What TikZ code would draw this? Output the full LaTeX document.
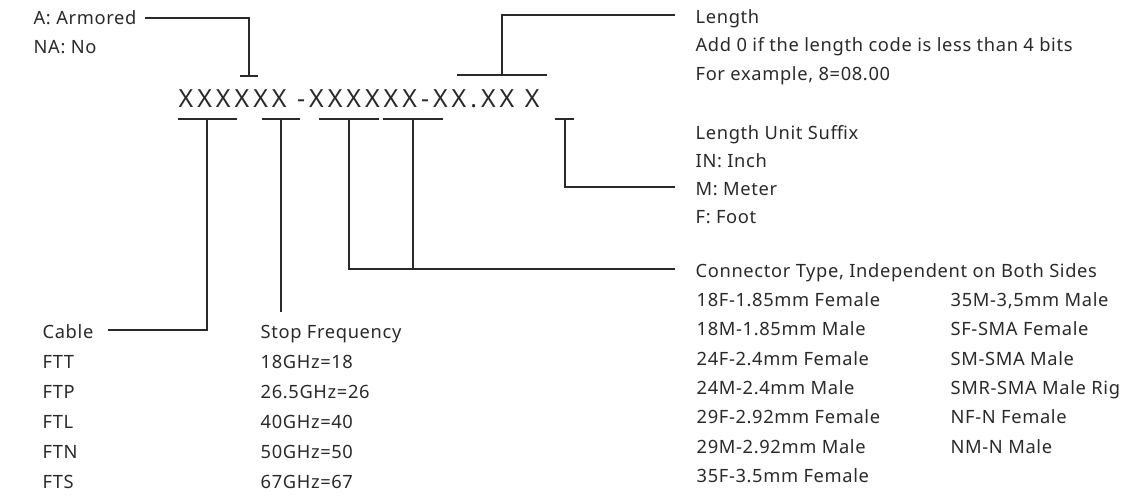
\documentclass[tikz,border=0pt]{standalone}
\usepackage{fontspec}
\setmainfont{Noto Sans}
\usetikzlibrary{positioning, calc}

\definecolor{ink}{HTML}{2A2A2A}

\begin{document}
\begin{tikzpicture}[x=1pt, y=-1pt, line width=1.3pt, draw=ink]
\tikzset{lbl/.style={anchor=base west, inner sep=0pt, text=ink, font=\fontsize{18.3}{20}\selectfont\addfontfeatures{LetterSpace=3.5}},
  code/.style={anchor=base west, inner sep=0pt, text=ink, font=\fontsize{25}{30}\selectfont\addfontfeatures{LetterSpace=16}},
  lead/.style={draw=ink, line width=1.3pt}}
\useasboundingbox (0,0) rectangle (1121,495);

% part number
\node[code] (pn) at (178,107) {XXXXXX -XXXXXX-XX.XX X};

% armored
\node[lbl] (armA) at (33,25) {A: Armored};
\node[lbl] (armNA) at (33,53) {NA: No};
\coordinate (armtick) at (249,76);
\draw[lead] (240,76) -- (258,76);
\draw[lead] ([xshift=8pt,yshift=7pt]armA.base east) -| (armtick);

% length
\node[lbl] (lenT) at (695,24) {Length};
\node[lbl] (lenA) at (695,52) {Add 0 if the length code is less than 4 bits};
\node[lbl] (lenB) at (695,80) {For example, 8=08.00};
\coordinate (lentick) at (502,75);
\draw[lead] (457,75) -- (547,75);
\draw[lead] (lentick) |- ([xshift=-20pt,yshift=9pt]lenT.base west);

% length unit
\node[lbl] (unitT) at (695,139) {Length Unit Suffix};
\node[lbl] (unitIN) at (695,167) {IN: Inch};
\node[lbl] (unitM) at (695,195) {M: Meter};
\node[lbl] (unitF) at (695,223) {F: Foot};
\coordinate (unittick) at (565,119);
\draw[lead] (555,119) -- (574,119);
\draw[lead] (unittick) |- ([xshift=-20pt,yshift=8pt]unitM.base west);

% connector type
\node[lbl] (conT) at (695,277) {Connector Type, Independent on Both Sides};
\foreach \t [count=\i from 0] in {18F-1.85mm Female, 18M-1.85mm Male, 24F-2.4mm Female, 24M-2.4mm Male, 29F-2.92mm Female, 29M-2.92mm Male, 35F-3.5mm Female}
  \node[lbl] (conA\i) at (696,306.5+29.3*\i) {\t};
\foreach \t [count=\i from 0] in {{35M-3,5mm Male}, SF-SMA Female, SM-SMA Male, SMR-SMA Male Rig, NF-N Female, NM-N Male}
  \node[lbl] (conB\i) at (950,306.5+29.3*\i) {\t};
\coordinate (contickA) at (349,119);
\coordinate (contickB) at (413,119);
\coordinate (conend) at ([xshift=-20pt,yshift=8pt]conT.base west);
\draw[lead] (319,119) -- (379,119);
\draw[lead] (383,119) -- (443,119);
\draw[lead] (contickA) |- (conend);
\draw[lead] (contickB) -- (contickB |- conend);

% cable
\node[lbl] (cabT) at (42,338) {Cable};
\foreach \t [count=\i from 1] in {FTT, FTP, FTL, FTN, FTS}
  \node[lbl] (cab\i) at (42,338+30*\i) {\t};
\coordinate (cabtick) at (207,119);
\draw[lead] (178,119) -- (237,119);
\draw[lead] ([xshift=14pt,yshift=8pt]cabT.base east) -| (cabtick);

% stop frequency
\node[lbl] (frqT) at (260,338) {Stop Frequency};
\foreach \t [count=\i from 1] in {18GHz=18, 26.5GHz=26, 40GHz=40, 50GHz=50, 67GHz=67}
  \node[lbl] (frq\i) at (260,338+30*\i) {\t};
\coordinate (frqtick) at (281,119);
\draw[lead] (262,119) -- (300,119);
\draw[lead] (frqtick) -- ([yshift=26pt]frqT.base west -| frqtick);
\end{tikzpicture}
\end{document}
